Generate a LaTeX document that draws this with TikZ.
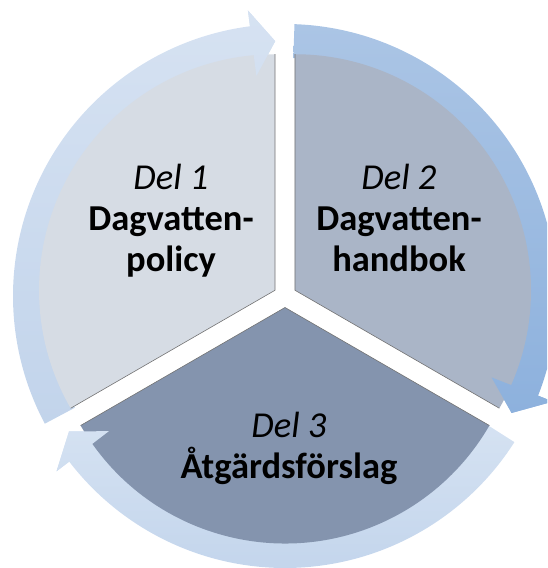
\documentclass[tikz,border=0pt]{standalone}
\usepackage{fontspec}
\setmainfont{Carlito}
\definecolor{secA}{HTML}{D6DCE4}
\definecolor{secB}{HTML}{AAB5C7}
\definecolor{secC}{HTML}{8494AE}
\definecolor{arAtop}{HTML}{D6E2F2}
\definecolor{arAbot}{HTML}{C2D4EB}
\definecolor{arBtop}{HTML}{ABC5E5}
\definecolor{arBbot}{HTML}{8DB1DD}
\definecolor{arCtop}{HTML}{D5E2F2}
\definecolor{arCbot}{HTML}{C3D5EC}
\newcommand\myarrowshape[3]{(#1:272) arc[start angle=#1, end angle=#2, radius=272] -- (#2:288) -- (#3:255) -- (#2:222) -- (#2:238) arc[start angle=#2, end angle=#1, radius=238] -- cycle}
\newcommand\myheadshape[2]{(#1:289) -- (#2:255) -- (#1:221) -- cycle}
\tikzset{
  edgeline/.style={draw=black!55, line width=0.6pt},
  lbl/.style={anchor=base, inner sep=0pt, font=\fontsize{36.5}{40}\selectfont},
}
\begin{document}
\begin{tikzpicture}[x=1pt,y=1pt]
\useasboundingbox (0,0) rectangle (547,568);
\clip (0,0) rectangle (547,568);
\begin{scope}[shift={(285,272)}]
  % arrow bodies (beneath the segments)
  \shade[top color=arAtop, bottom color=arAbot] \myarrowshape{208}{97.4}{92.2};
  \shade[top color=arBtop, bottom color=arBbot] \myarrowshape{88}{-21.5}{-27.3};
  \shade[top color=arCtop, bottom color=arCbot] \myarrowshape{-32.5}{-142.5}{-147.9};
  % segments
  \fill[secA] (150:11.5) -- ++(90:236) arc[start angle=90, end angle=210, radius=236] -- cycle;
  \fill[secB] (30:11.5) -- ++(-30:236) arc[start angle=-30, end angle=90, radius=236] -- cycle;
  \fill[secC] (270:11.5) -- ++(210:236) arc[start angle=210, end angle=330, radius=236] -- cycle;
  \path[edgeline] (150:11.5) ++(90:236) -- (150:11.5) -- ++(210:236);
  \path[edgeline] (30:11.5) ++(90:236) -- (30:11.5) -- ++(-30:236);
  \path[edgeline] (270:11.5) ++(210:236) -- (270:11.5) -- ++(330:236);
  % arrow heads on top of the segments
  \begin{scope}
    \clip \myheadshape{97.4}{92.2};
    \shade[top color=arAtop, bottom color=arAbot] \myarrowshape{208}{97.4}{92.2};
  \end{scope}
  \begin{scope}
    \clip \myheadshape{-21.5}{-27.3};
    \shade[top color=arBtop, bottom color=arBbot] \myarrowshape{88}{-21.5}{-27.3};
  \end{scope}
  \begin{scope}
    \clip \myheadshape{-142.5}{-147.9};
    \shade[top color=arCtop, bottom color=arCbot] \myarrowshape{-32.5}{-142.5}{-147.9};
  \end{scope}
\end{scope}
% labels
\node[lbl] (d1) at (171,378) {\itshape Del 1};
\node[lbl] (d1a) at (171,337) {\bfseries Dagvatten-};
\node[lbl] (d1b) at (171,296) {\bfseries policy};
\node[lbl] (d2) at (399,378) {\itshape Del 2};
\node[lbl] (d2a) at (399,337) {\bfseries Dagvatten-};
\node[lbl] (d2b) at (399,296) {\bfseries handbok};
\node[lbl] (d3) at (289,130) {\itshape Del 3};
\node[lbl] (d3a) at (289,89) {\bfseries Åtgärdsförslag};
\end{tikzpicture}
\end{document}
